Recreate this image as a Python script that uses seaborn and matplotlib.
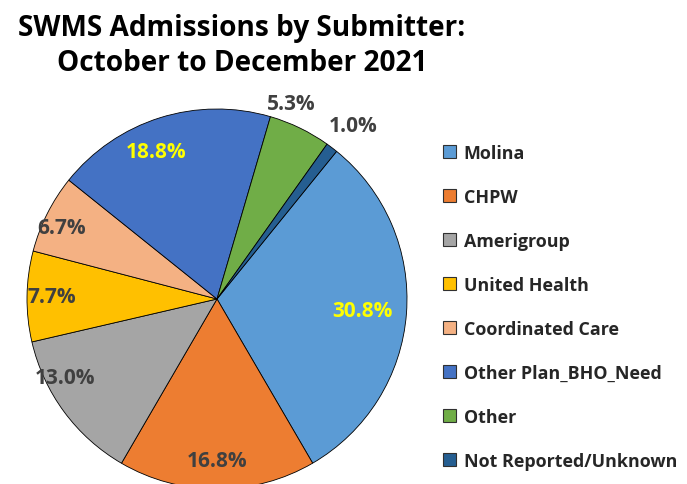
import numpy as np
import matplotlib
matplotlib.use("Agg")
import matplotlib.pyplot as plt
import seaborn as sns

# data
submitters = ["Molina", "CHPW", "Amerigroup", "United Health", "Coordinated Care",
              "Other Plan_BHO_Need", "Other", "Not Reported/Unknown"]
shares = [30.8, 16.8, 13.0, 7.7, 6.7, 18.8, 5.3, 1.0]
slice_colors = ["#5B9BD5", "#ED7D31", "#A5A5A5", "#FFC000", "#F4B183",
                "#4472C4", "#70AD47", "#255E91"]

# label look: radial distance (fraction of radius), angle nudge (deg) and colour
label_dist = [0.77, 0.85, 0.90, 0.87, 0.90, 0.84, 1.10, 1.16]
label_nudge = [0, 0, -9, 0, 2, 5, 5, -1]
label_color = ["#FFFF00", "#404040", "#404040", "#404040", "#404040",
               "#FFFF00", "#404040", "#404040"]

sns.set_theme(style="white")
plt.rcParams["font.family"] = ["Open Sans", "DejaVu Sans"]

fig = plt.figure(figsize=(6.87, 4.85), dpi=100)
ax = fig.add_axes([0, 0, 1, 1])
ax.set_xlim(0, 687)
ax.set_ylim(0, 485)
ax.set_aspect("equal")
ax.axis("off")

cx, cy, R = 217, 185, 190
palette = sns.color_palette(slice_colors)
wedges, texts, autotexts = ax.pie(
    shares, colors=palette, startangle=51, counterclock=False,
    center=(cx, cy), radius=R, autopct="%.1f%%", pctdistance=0.8,
    wedgeprops=dict(edgecolor="black", linewidth=0.6),
    textprops=dict(fontsize=15, fontweight="bold"),
)
ax.set_xlim(0, 687)
ax.set_ylim(0, 485)

for w, t, d, n, c in zip(wedges, autotexts, label_dist, label_nudge, label_color):
    mid = np.deg2rad((w.theta1 + w.theta2) / 2 + n)
    t.set_position((cx + d * R * np.cos(mid), cy + d * R * np.sin(mid)))
    t.set_color(c)

fig.text(0.352, 0.905, "SWMS Admissions by Submitter:\nOctober to December 2021",
         ha="center", va="center", fontsize=20.2, fontweight="bold",
         linespacing=1.27, color="black")

handles = [plt.Rectangle((0, 0), 1, 1, facecolor=col, edgecolor="#303030", linewidth=0.8)
           for col in slice_colors]
leg = fig.legend(handles, submitters, loc="upper left", bbox_to_anchor=(0.634, 0.716),
                 frameon=False, prop=dict(weight="bold", size=12.9),
                 handlelength=0.72, handleheight=0.72, handletextpad=0.45,
                 labelspacing=1.45, borderaxespad=0)

fig.savefig("out.png", dpi=100)
